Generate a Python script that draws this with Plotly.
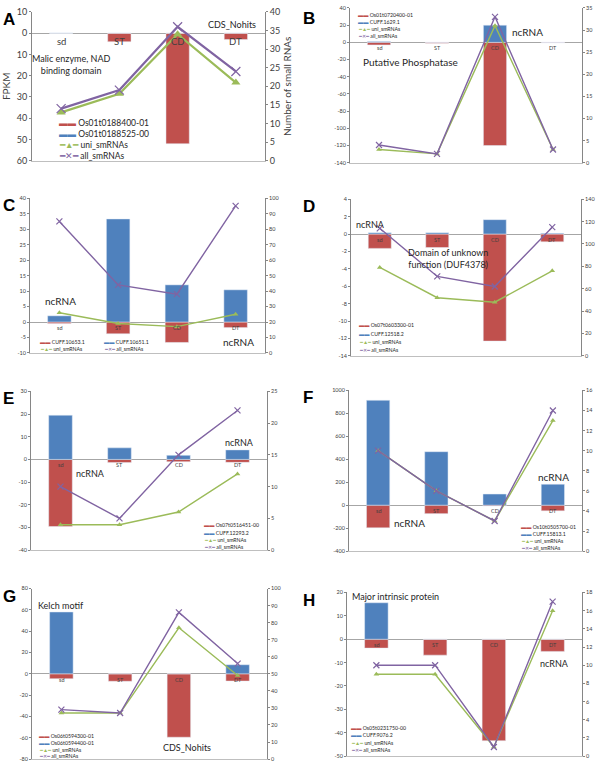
import plotly.graph_objects as go

# stages on the x axis of every panel
stages = ["sd", "ST", "CD", "DT"]

# Panel A
a_names = ["Os01t0188400-01", "Os01t0188525-00"]
a_gene = [0, -4, -52, -3]
a_cuff = [0, 0, 0, 0]
a_uni = [13, 18, 34, 21]
a_all = [14, 19, 36, 24]

# Panel B
b_names = ["Os01t0720400-01", "CUFF.1629.1"]
b_gene = [-3, -1, -120, -0.5]
b_cuff = [1, 0, 20, 0]
b_uni = [3, 2, 31, 3]
b_all = [4, 2, 33, 3]

# Panel C
c_names = ["CUFF.10653.1", "CUFF.10651.1"]
c_gene = [-0.5, -3.8, -6.6, -1.8]
c_cuff = [2, 33.3, 12, 10.4]
c_uni = [26, 19, 17, 25]
c_all = [85, 44, 38, 95]

# Panel D
d_names = ["Os07t0603300-01", "CUFF.12518.2"]
d_gene = [-1.65, -1.55, -12.3, -0.9]
d_cuff = [0.15, 0.15, 1.65, 0.08]
d_uni = [79, 52, 48, 76]
d_all = [114, 71, 62, 115]

# Panel E
e_names = ["Os07t0516451-00", "CUFF.12293.2"]
e_gene = [-29.6, -1.4, -1, -1.3]
e_cuff = [19.5, 5.1, 1.8, 4.2]
e_uni = [4, 4, 6, 12]
e_all = [10, 5, 15, 22]

# Panel F
f_names = ["Os10t0505700-01", "CUFF.15813.1"]
f_gene = [-197, -74, -8, -49]
f_cuff = [914, 466, 97, 183]
f_uni = [10, 6, 3, 13]
f_all = [10, 6, 3, 14]

# Panel G
g_names = ["Os06t0594300-01", "Os06t0594400-01"]
g_gene = [-4.6, -7, -59.5, -6.8]
g_cuff = [58, 0, 0, 8.5]
g_uni = [27, 27, 77, 49]
g_all = [29, 27, 86, 56]

# Panel H
h_names = ["Os05t0231750-00", "CUFF.9076.2"]
h_gene = [-3.8, -6.8, -43.4, -5.2]
h_cuff = [15.6, 0, 0, 0]
h_uni = [9, 9, 1, 16]
h_all = [10, 10, 1, 17]

line_names = ["uni_smRNAs", "all_smRNAs"]

RED = "#C0504D"
BLUE = "#4F81BD"
GREEN = "#9BBB59"
PURPLE = "#8064A2"
AXIS = "#868686"
FONT = "Lato, 'Open Sans', sans-serif"

W, H = 600, 769


def px(x, y):
    return x / W, 1 - y / H


panels = [
    dict(letter="A", names=a_names, gene=a_gene, cuff=a_cuff, uni=a_uni, all=a_all,
         box=(32, 265, 6, 157), left=(-60, 10, 10), right=(0, 40, 5), big=True,
         notes=[("CDS_Nohits", 232, 19), ("Malic enzyme, NAD<br>binding domain", 71, 59)],
         leg=(57, 119, 11, 1, 0), nfs=9),
    dict(letter="B", names=b_names, gene=b_gene, cuff=b_cuff, uni=b_uni, all=b_all,
         box=(350, 582, 2, 159), left=(-140, 40, 20), right=(0, 35, 5), big=False,
         notes=[("ncRNA", 527, 26), ("Putative Phosphatase", 410, 57)],
         leg=(356, 9, 7, 1, 0), nfs=10),
    dict(letter="C", names=c_names, gene=c_gene, cuff=c_cuff, uni=c_uni, all=c_all,
         box=(30, 265, 195, 352), left=(-10, 40, 5), right=(0, 100, 10), big=False,
         notes=[("ncRNA", 60, 299), ("ncRNA", 238, 341)],
         leg=(38, 341, 6.5, 2, 64), nfs=10),
    dict(letter="D", names=d_names, gene=d_gene, cuff=d_cuff, uni=d_uni, all=d_all,
         box=(351, 581, 196, 355), left=(-14, 4, 2), right=(0, 140, 20), big=False,
         notes=[("ncRNA", 370, 222), ("Domain of unknown<br>function (DUF4378)", 448, 256)],
         leg=(357, 324, 8.4, 1, 0), nfs=9),
    dict(letter="E", names=e_names, gene=e_gene, cuff=e_cuff, uni=e_uni, all=e_all,
         box=(31, 267, 391, 552), left=(-40, 30, 10), right=(0, 25, 5), big=False,
         notes=[("ncRNA", 90, 474), ("ncRNA", 239, 443)],
         leg=(202, 527, 7.2, 1, 0), nfs=9),
    dict(letter="F", names=f_names, gene=f_gene, cuff=f_cuff, uni=f_uni, all=f_all,
         box=(349, 582, 390, 553), left=(-400, 1000, 200), right=(0, 16, 2), big=False,
         notes=[("ncRNA", 553, 478), ("ncRNA", 409, 525)],
         leg=(519, 529, 6.8, 1, 0), nfs=10),
    dict(letter="G", names=g_names, gene=g_gene, cuff=g_cuff, uni=g_uni, all=g_all,
         box=(32, 267, 591, 764), left=(-80, 80, 20), right=(0, 100, 10), big=False,
         notes=[("Kelch motif", 61, 608), ("CDS_Nohits", 187, 752)],
         leg=(37, 741, 6.7, 1, 0), nfs=9),
    dict(letter="H", names=h_names, gene=h_gene, cuff=h_cuff, uni=h_uni, all=h_all,
         box=(347, 582, 595, 761), left=(-50, 20, 10), right=(0, 18, 2), big=False,
         notes=[("Major intrinsic protein", 395, 599), ("ncRNA", 554, 667)],
         leg=(349, 732, 7.7, 1, 0), nfs=9),
]

fig = go.Figure()
layout = {}
annotations = []

for i, p in enumerate(panels):
    n = i + 1
    xref = "x" if n == 1 else f"x{n}"
    yref = "y" if n == 1 else f"y{n}"
    y2ref = f"y{n + 8}"
    xkey = "xaxis" if n == 1 else f"xaxis{n}"
    ykey = "yaxis" if n == 1 else f"yaxis{n}"
    y2key = f"yaxis{n + 8}"
    big = p["big"]
    tfs = 9 if big else 5.5
    lw = 2.2 if big else 1.4
    ms = 8 if big else 5

    fig.add_trace(go.Bar(x=stages, y=p["gene"], name=p["names"][0], marker_color=RED,
                         width=0.4, xaxis=xref, yaxis=yref, showlegend=False))
    fig.add_trace(go.Bar(x=stages, y=p["cuff"], name=p["names"][1], marker_color=BLUE,
                         width=0.4, xaxis=xref, yaxis=yref, showlegend=False))
    fig.add_trace(go.Scatter(x=stages, y=p["uni"], name=line_names[0], mode="lines+markers",
                             line=dict(color=GREEN, width=lw),
                             marker=dict(symbol="triangle-up", size=ms, color=GREEN),
                             xaxis=xref, yaxis=y2ref, showlegend=False))
    fig.add_trace(go.Scatter(x=stages, y=p["all"], name=line_names[1], mode="lines+markers",
                             line=dict(color=PURPLE, width=lw),
                             marker=dict(symbol="x-thin", size=ms + 1,
                                         line=dict(color=PURPLE, width=1.2)),
                             xaxis=xref, yaxis=y2ref, showlegend=False))

    l, r, t, b = p["box"]
    x0, _ = px(l, 0)
    x1, _ = px(r, 0)
    _, y1 = px(0, t)
    _, y0 = px(0, b)

    lo, hi, dt = p["left"]
    tickvals = list(range(lo, hi + 1, dt))
    ticktext = [str(abs(v)) if big else str(v) for v in tickvals]

    layout[xkey] = dict(domain=[x0, x1], anchor=yref, range=[-0.5, 3.5],
                        showticklabels=False, ticks="", showgrid=False,
                        showline=True, linecolor="#BFBFBF", linewidth=1, zeroline=False)
    layout[ykey] = dict(domain=[y0, y1], anchor=xref, range=[lo, hi],
                        tickvals=tickvals, ticktext=ticktext,
                        showgrid=False, showline=True, linecolor=AXIS, linewidth=1,
                        ticks="outside", ticklen=2, tickcolor=AXIS,
                        tickfont=dict(size=tfs, color="#404040"),
                        zeroline=True, zerolinecolor="#A6A6A6", zerolinewidth=1)
    rlo, rhi, rdt = p["right"]
    layout[y2key] = dict(overlaying=yref, anchor=xref, side="right", range=[rlo, rhi],
                         tickmode="linear", tick0=rlo, dtick=rdt,
                         showgrid=False, showline=True, linecolor=AXIS, linewidth=1,
                         ticks="outside", ticklen=2, tickcolor=AXIS,
                         tickfont=dict(size=tfs, color="#404040"), zeroline=False)
    if big:
        layout[ykey]["title"] = dict(text="FPKM", font=dict(size=10), standoff=4)
        layout[y2key]["title"] = dict(text="Number of small RNAs", font=dict(size=10), standoff=4)

    # stage labels sitting on the zero line
    for s in stages:
        annotations.append(dict(x=s, y=0, xref=xref, yref=yref, text=s, showarrow=False,
                                yanchor="top", yshift=-1,
                                font=dict(size=9.5 if big else 5.5, color="#404040")))

    # panel letter
    _, ly = px(0, max(t - 4, 1))
    annotations.append(dict(x=px(0 if n % 2 else 300, 0)[0] + 0.002, y=ly,
                            xref="paper", yref="paper", text=f"<b>{p['letter']}</b>",
                            showarrow=False, xanchor="left", yanchor="top",
                            font=dict(size=17, family="Liberation Sans, Arial, sans-serif",
                                      color="black")))

    # free text notes
    nfs = p.get("nfs", 9)
    for text, nx, ny in p["notes"]:
        ax, ay = px(nx, ny)
        annotations.append(dict(x=ax, y=ay, xref="paper", yref="paper", text=text,
                                showarrow=False, xanchor="center", yanchor="middle",
                                font=dict(size=nfs, color="#262626")))

    # legend drawn as text
    gx, gy, gdy, cols, gdx = p["leg"]
    lfs = 8.5 if big else 5.2
    sfs = 8.5 if big else 5.2
    entries = [
        (f"<span style='color:{RED};font-size:{sfs}px'>▬▬</span> {p['names'][0]}"),
        (f"<span style='color:{BLUE};font-size:{sfs}px'>▬▬</span> {p['names'][1]}"),
        (f"<span style='color:{GREEN};font-size:{sfs}px'>━▲━</span> {line_names[0]}"),
        (f"<span style='color:{PURPLE};font-size:{sfs}px'>━✕━</span> {line_names[1]}"),
    ]
    for k, txt in enumerate(entries):
        if cols == 1:
            ex, ey = gx, gy + k * gdy
        else:
            ex, ey = gx + (k % 2) * gdx, gy + (k // 2) * gdy
        ax, ay = px(ex, ey)
        annotations.append(dict(x=ax, y=ay, xref="paper", yref="paper", text=txt,
                                showarrow=False, xanchor="left", yanchor="middle",
                                font=dict(size=lfs, color="#262626")))

fig.update_layout(**layout)
fig.update_layout(
    width=W, height=H,
    margin=dict(l=0, r=0, t=0, b=0),
    barmode="relative",
    bargap=0.6,
    plot_bgcolor="white",
    paper_bgcolor="white",
    font=dict(family=FONT, color="#404040"),
    showlegend=False,
    annotations=annotations,
)

# drop the default page margin so the 600x769 figure fills the window exactly
fig.write_html("out.html", config={"displayModeBar": False},
               post_script="document.body.style.margin='0';document.body.style.overflow='hidden';")
